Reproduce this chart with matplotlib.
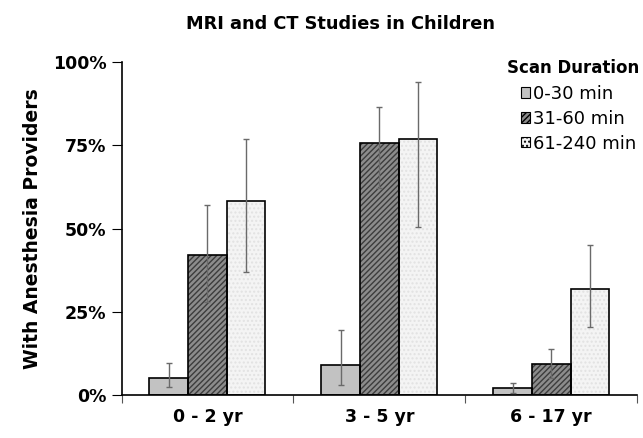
import matplotlib
matplotlib.use("Agg")
import matplotlib.pyplot as plt
import numpy as np
from matplotlib.patches import Patch

plt.rcParams['font.family'] = ['DejaVu Sans']

# data (percent)
groups = ['0 - 2 yr', '3 - 5 yr', '6 - 17 yr']
series = ['0-30 min', '31-60 min', '61-240 min']
values = [
    [5.2, 9.0, 2.0],      # 0-30 min
    [42.0, 75.8, 9.3],    # 31-60 min
    [58.2, 76.8, 31.9],   # 61-240 min
]
err_low = [
    [2.4, 3.0, 0.5],
    [28.0, 62.3, 5.0],
    [37.0, 50.6, 20.6],
]
err_high = [
    [9.6, 19.6, 3.5],
    [57.2, 86.4, 13.9],
    [76.8, 94.0, 45.0],
]

faces = ['#c2c2c2', '#8c8c8c', '#f4f4f4']
hatches = [None, '//////', '....']
hatch_cols = ['#c2c2c2', '#3c3c3c', '#e2e2e2']

fig = plt.figure(figsize=(6.43, 4.38), dpi=100)
ax = fig.add_axes([0.189, 0.098, 0.802, 0.76])

x = np.arange(len(groups))
w = 0.225
for i in range(3):
    pos = x + (i - 1) * w
    v = np.array(values[i])
    lo = v - np.array(err_low[i])
    hi = np.array(err_high[i]) - v
    ax.bar(pos, v, w, color=faces[i], hatch=hatches[i],
           edgecolor=hatch_cols[i], linewidth=0, zorder=2)
    ax.bar(pos, v, w, fill=False, edgecolor='black', linewidth=1.2, zorder=3)
    ax.errorbar(pos, v, yerr=[lo, hi], fmt='none', ecolor='#6a6a6a',
                elinewidth=1, capsize=2.5, capthick=1, zorder=4)

ax.set_xlim(-0.5, 2.5)
ax.set_ylim(0, 100)
ax.set_yticks([0, 25, 50, 75, 100])
ax.set_yticklabels(['0%', '25%', '50%', '75%', '100%'],
                   fontsize=12.5, fontweight='bold')
ax.set_xticks([-0.5, 0.5, 1.5, 2.5])
ax.set_xticklabels([])
ax.set_xticks(x, minor=True)
ax.set_xticklabels(groups, minor=True, fontsize=12.5, fontweight='bold')
ax.tick_params(axis='x', which='minor', length=0, pad=9)
ax.tick_params(axis='x', which='major', length=6, direction='out', color='#555555')
ax.tick_params(axis='y', length=7, direction='out', pad=4)

for s in ['top', 'right']:
    ax.spines[s].set_visible(False)
ax.spines['left'].set_linewidth(1.2)
ax.spines['bottom'].set_linewidth(1.2)

ax.set_ylabel('With Anesthesia Providers', fontsize=13.5, fontweight='bold', labelpad=8)
fig.text(0.53, 0.945, 'MRI and CT Studies in Children', ha='center', va='center',
         fontsize=12.8, fontweight='bold')

# legend title drawn separately so entries sit indented under it
fig.text(0.788, 0.845, 'Scan Duration', ha='left', va='center',
         fontsize=12, fontweight='bold')
handles = [Patch(facecolor=faces[i], hatch=hatches[i], edgecolor='black', linewidth=0.8)
           for i in range(3)]
leg = fig.legend(handles, series, frameon=False,
                 loc='upper left', bbox_to_anchor=(0.81, 0.806),
                 fontsize=13, handlelength=0.5, handleheight=0.5,
                 handletextpad=0.2, labelspacing=0.38, borderpad=0,
                 borderaxespad=0)

fig.savefig('out.png', dpi=100)
